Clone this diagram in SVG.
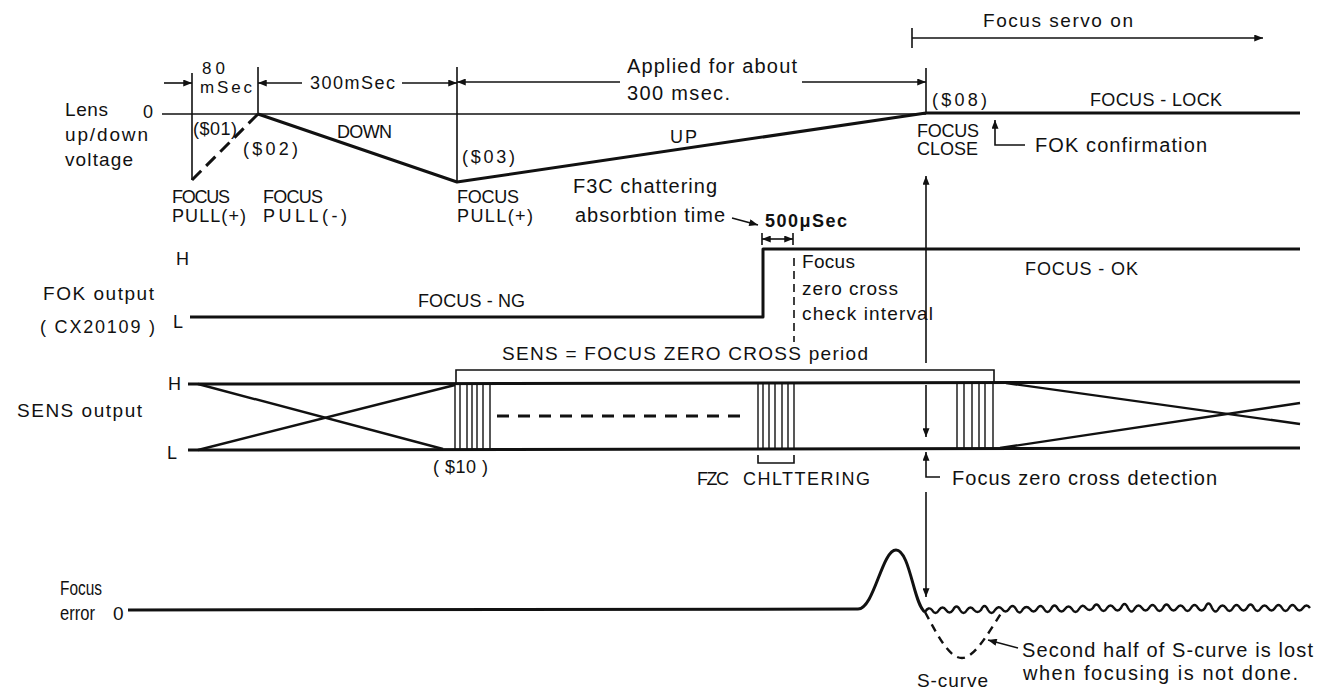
<svg xmlns="http://www.w3.org/2000/svg" width="1340" height="695" viewBox="0 0 1340 695">
<style>
.t{font-family:"Liberation Sans",Arial,sans-serif;fill:#111}
.s17{font-size:17px}.s18{font-size:18px}.s19{font-size:19px}.s20{font-size:20px}.s21{font-size:21px}
.b{font-weight:bold}
.thick{stroke:#111;stroke-width:3;fill:none;stroke-linejoin:round}
.med{stroke:#111;stroke-width:2.4;fill:none}
.thin{stroke:#111;stroke-width:1.6;fill:none}
.hat{stroke:#111;stroke-width:1.4}
.arr{marker-end:url(#ah)}
</style>
<defs>
<marker id="ah" viewBox="0 0 10 8" refX="10" refY="4" markerWidth="10" markerHeight="7" markerUnits="userSpaceOnUse" orient="auto-start-reverse">
<path d="M0,0 L10,4 L0,8 z" fill="#111"/>
</marker>
</defs>
<rect width="1340" height="695" fill="#fff"/>

<g id="lens-voltage">
<text class="t s19" x="65" y="116" textLength="43">Lens</text>
<text class="t s19" x="65" y="141" textLength="83">up/down</text>
<text class="t s19" x="65" y="166" textLength="68">voltage</text>
<text class="t s18" x="143" y="118">0</text>
<line class="thin" x1="162" y1="114" x2="926" y2="114"/>
<line class="thick" x1="926" y1="113" x2="1300" y2="113"/>
<line class="thick" x1="192" y1="180" x2="258" y2="114" stroke-dasharray="13,7"/>
<polyline class="thick" points="258,114 457,182 926,113"/>
<text class="t s18" x="193" y="135" textLength="44">($01)</text>
<text class="t s18" x="243" y="155" textLength="55">($02)</text>
<text class="t s18" x="337" y="138" textLength="55">DOWN</text>
<text class="t s18" x="462" y="163" textLength="53">($03)</text>
<text class="t s18" x="670" y="143" textLength="27">UP</text>
<text class="t s18" x="172" y="203" textLength="58">FOCUS</text>
<text class="t s18" x="172" y="222" textLength="74">PULL(+)</text>
<text class="t s18" x="263" y="203" textLength="60">FOCUS</text>
<text class="t s18" x="263" y="222" textLength="84">PULL(-)</text>
<text class="t s18" x="457" y="203" textLength="62">FOCUS</text>
<text class="t s18" x="457" y="222" textLength="76">PULL(+)</text>
<text class="t s18" x="932" y="106" textLength="55">($08)</text>
<text class="t s18" x="1090" y="106" textLength="132">FOCUS - LOCK</text>
<text class="t s18" x="917" y="137" textLength="62">FOCUS</text>
<text class="t s18" x="917" y="155" textLength="61">CLOSE</text>
<text class="t s20" x="1035" y="152" textLength="172">FOK confirmation</text>
</g>

<g id="timing-dimensions">
<line class="thin" x1="192" y1="73" x2="192" y2="180"/>
<line class="thin" x1="258" y1="67" x2="258" y2="114"/>
<line class="thin" x1="457" y1="67" x2="457" y2="182"/>
<line class="thin" x1="926" y1="68" x2="926" y2="113"/>
<text class="t s17" x="202" y="74" textLength="23">80</text>
<text class="t s17" x="200" y="93" textLength="52">mSec</text>
<text class="t s18" x="310" y="89" textLength="85">300mSec</text>
<text class="t s20" x="627" y="73" textLength="170">Applied for about</text>
<text class="t s20" x="627" y="100" textLength="103">300 msec.</text>
<text class="t s19" x="983" y="27" textLength="150">Focus servo on</text>
<line class="thin" x1="912" y1="28" x2="912" y2="48"/>
</g>

<g id="fok-output">
<text class="t s19" x="43" y="300" textLength="111">FOK output</text>
<text class="t s18" x="40" y="333" textLength="115">( CX20109 )</text>
<text class="t s18" x="176" y="265">H</text>
<text class="t s18" x="173" y="328">L</text>
<polyline class="thick" points="190,317 763,317 763,249 1300,249"/>
<text class="t s18" x="418" y="307" textLength="107">FOCUS - NG</text>
<text class="t s18" x="1025" y="275" textLength="113">FOCUS - OK</text>
<text class="t s20" x="573" y="193" textLength="144">F3C chattering</text>
<text class="t s20" x="575" y="222" textLength="150">absorbtion time</text>
<text class="t s18 b" x="765" y="227" textLength="82">500μSec</text>
<line class="thin" x1="762" y1="233" x2="762" y2="245"/>
<line class="thin" x1="793" y1="233" x2="793" y2="245"/>
<line class="thin" x1="794" y1="258" x2="794" y2="342" stroke-dasharray="8,5"/>
<text class="t s19" x="802" y="268" textLength="53">Focus</text>
<text class="t s19" x="802" y="295" textLength="96">zero cross</text>
<text class="t s19" x="802" y="320" textLength="131">check interval</text>
</g>

<g id="sens-output">
<text class="t s19" x="17" y="417" textLength="125">SENS output</text>
<text class="t s18" x="168" y="390">H</text>
<text class="t s18" x="167" y="459">L</text>
<line class="thick" x1="188" y1="384" x2="1300" y2="382"/>
<line class="thick" x1="188" y1="450" x2="1300" y2="448"/>
<line class="med" x1="198" y1="384" x2="443" y2="449"/>
<line class="med" x1="198" y1="450" x2="455" y2="385"/>
<line class="med" x1="1006" y1="383" x2="1300" y2="424"/>
<line class="med" x1="1000" y1="448" x2="1300" y2="403"/>
<g class="hat">
<line x1="455" y1="384" x2="455" y2="450"/><line x1="460" y1="384" x2="460" y2="450"/>
<line x1="467" y1="384" x2="467" y2="450"/><line x1="472" y1="384" x2="472" y2="450"/>
<line x1="477" y1="384" x2="477" y2="450"/><line x1="483" y1="384" x2="483" y2="450"/>
<line x1="490" y1="384" x2="490" y2="450"/>
<line x1="758" y1="383" x2="758" y2="449"/><line x1="763" y1="383" x2="763" y2="449"/>
<line x1="769" y1="383" x2="769" y2="449"/><line x1="775" y1="383" x2="775" y2="449"/>
<line x1="782" y1="383" x2="782" y2="449"/><line x1="788" y1="383" x2="788" y2="449"/>
<line x1="794" y1="383" x2="794" y2="449"/>
<line x1="957" y1="382" x2="957" y2="448"/><line x1="964" y1="382" x2="964" y2="448"/>
<line x1="972" y1="382" x2="972" y2="448"/><line x1="979" y1="382" x2="979" y2="448"/>
<line x1="985" y1="382" x2="985" y2="448"/><line x1="993" y1="382" x2="993" y2="448"/>
</g>
<line class="thick" x1="497" y1="416" x2="745" y2="416" stroke-dasharray="12,9"/>
<polyline class="thin" points="456,383 456,370 994,370 994,382"/>
<text class="t s19" x="502" y="360" textLength="366">SENS = FOCUS ZERO CROSS period</text>
<polyline class="thin" points="758,455 758,463 794,463 794,455"/>
<text class="t s18" x="433" y="473" textLength="55">( $10 )</text>
<text class="t s18" x="697" y="485" textLength="32">FZC</text>
<text class="t s18" x="743" y="485" textLength="127">CHLTTERING</text>
<text class="t s20" x="952" y="485" textLength="265">Focus zero cross detection</text>
</g>

<g id="focus-error">
<text class="t s21" x="60" y="595" textLength="42" lengthAdjust="spacingAndGlyphs">Focus</text>
<text class="t s21" x="60" y="620" textLength="35" lengthAdjust="spacingAndGlyphs">error</text>
<text class="t s19" x="113" y="620">0</text>
<path class="thick" d="M128,610 L858,609 C874,609 882,550 896,550 C910,550 914,606 925,612"/>
<path class="med" d="M925,612 q3.5,-6 7,-2 q3.5,6 7,0 q3.5,-5 7,0 q3.5,5 7,0 q3.5,-7 7,0 q3.5,6 7,0 q3.5,-5 7,0 q3.5,4 7,0 q3.5,-8 7,0 q3.5,6 7,0 q3.5,-5 7,-1 q3.5,5 7,0 q3.5,-6 7,0 q3.5,7 7,0 q3.5,-4 7,0 q3.5,5 7,0 q3.5,-6 7,0 q3.5,6 7,0 q3.5,-7 7,0 q3.5,5 7,0 q3.5,-5 7,0 q3.5,6 7,0 q3.5,-6 7,-1 q3.5,4 7,0 q3.5,-7 7,0 q3.5,6 7,0 q3.5,-5 7,0 q3.5,5 7,0 q3.5,-8 7,0 q3.5,7 7,0 q3.5,-5 7,0 q3.5,5 7,0 q3.5,-6 7,0 q3.5,6 7,0 q3.5,-7 7,0 q3.5,5 7,0 q3.5,-5 7,0 q3.5,6 7,0 q3.5,-6 7,0 q3.5,5 7,0 q3.5,-9 7,0 q3.5,7 7,0 q3.5,-5 7,0 q3.5,6 7,0 q3.5,-6 7,0 q3.5,5 7,0 q3.5,-7 7,0 q3.5,6 7,0 q3.5,-5 7,0 q3.5,5 7,0 q3.5,-6 7,0 q3.5,6 7,0 q3.5,-6 7,0 q3.5,5 7,0 q3.5,-5 7,0"/>
<path class="med" d="M925,612 C940,640 950,658 962,658 C975,658 990,630 1002,612" stroke-dasharray="8,6"/>
<text class="t s19" x="917" y="687" textLength="71">S-curve</text>
<text class="t s20" x="1022" y="657" textLength="291">Second half of S-curve is lost</text>
<text class="t s20" x="1023" y="680" textLength="275">when focusing is not done.</text>
</g>

<g id="connectors">
<line class="thin arr" x1="164" y1="83" x2="192" y2="83"/>
<line class="thin arr" x1="302" y1="83" x2="258" y2="83"/>
<line class="thin arr" x1="402" y1="83" x2="457" y2="83"/>
<line class="thin arr" x1="620" y1="82" x2="457" y2="82"/>
<line class="thin arr" x1="802" y1="82" x2="926" y2="82"/>
<line class="thin arr" x1="912" y1="38" x2="1263" y2="38"/>
<polyline class="thin arr" points="1025,145 995,145 995,120"/>
<line class="thin arr" x1="732" y1="218" x2="758" y2="225"/>
<line class="thin" x1="762" y1="239" x2="793" y2="239" marker-start="url(#ah)" marker-end="url(#ah)"/>
<line class="thin arr" x1="926" y1="363" x2="926" y2="176"/>
<line class="thin arr" x1="926" y1="385" x2="926" y2="437"/>
<polyline class="thin arr" points="940,477 926,477 926,452"/>
<line class="thin arr" x1="926" y1="492" x2="926" y2="597"/>
<line class="thin arr" x1="1018" y1="648" x2="988" y2="640"/>
</g>
</svg>
